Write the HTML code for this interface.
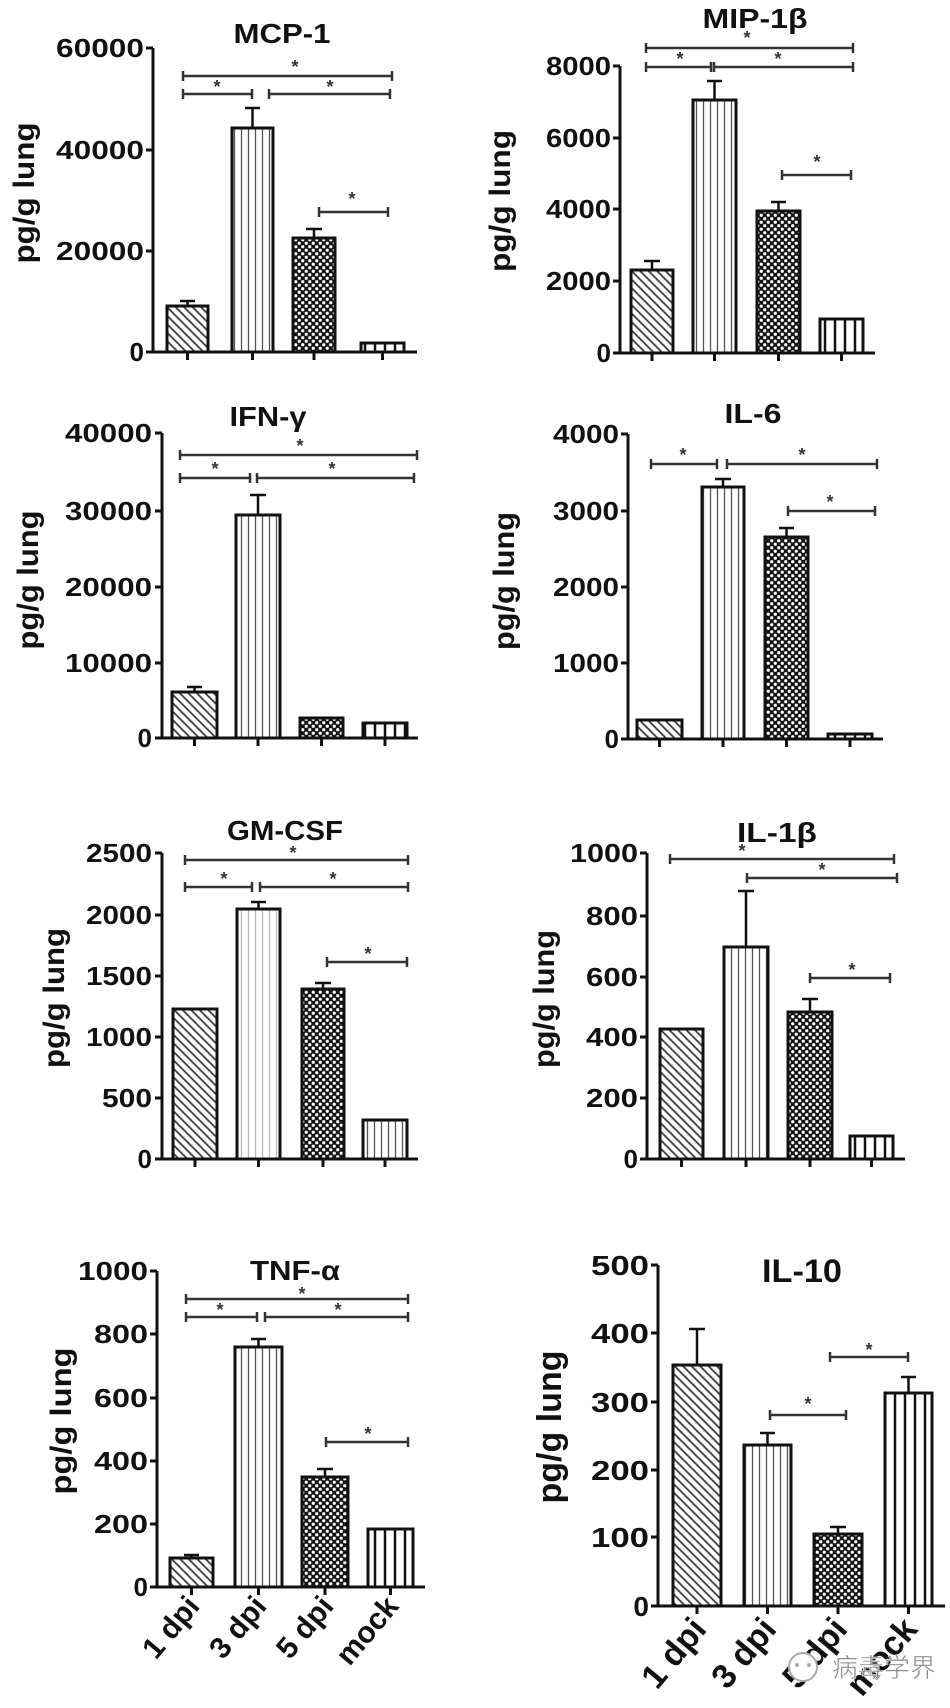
<!DOCTYPE html>
<html><head><meta charset="utf-8"><style>
html,body{margin:0;padding:0;background:#fff;}
svg{display:block;font-family:"Liberation Sans",Arial,sans-serif;font-weight:bold;}
.ax{stroke:#111;stroke-width:3;fill:none;}
.bar{stroke:#111;stroke-width:3;}
.br{stroke:#333;stroke-width:2.5;fill:none;}
.eb{stroke:#111;stroke-width:2.5;fill:none;}
.tk{font-size:26px;fill:#111;text-anchor:end;}
.tt{font-size:28px;fill:#111;text-anchor:middle;}
.yl{font-size:30px;fill:#111;text-anchor:middle;}
.st{font-size:18px;fill:#333;text-anchor:middle;}
.xl{font-size:30px;fill:#111;text-anchor:end;}
</style></head><body>
<svg width="950" height="1708" viewBox="0 0 950 1708" xmlns="http://www.w3.org/2000/svg">
<defs>
<pattern id="h" width="6" height="6" patternUnits="userSpaceOnUse" patternTransform="rotate(-45)"><rect width="6" height="6" fill="#fff"/><line x1="3" y1="0" x2="3" y2="6" stroke="#333" stroke-width="1.7"/></pattern>
<pattern id="v" width="7" height="7" patternUnits="userSpaceOnUse"><rect width="7" height="7" fill="#fff"/><line x1="3.5" y1="0" x2="3.5" y2="7" stroke="#555" stroke-width="1.3"/></pattern>
<pattern id="vl" width="7" height="7" patternUnits="userSpaceOnUse"><rect width="7" height="7" fill="#fff"/><line x1="3.5" y1="0" x2="3.5" y2="7" stroke="#bbb" stroke-width="1.3"/></pattern>
<pattern id="d" width="7" height="7" patternUnits="userSpaceOnUse"><rect width="7" height="7" fill="#151515"/><circle cx="1.75" cy="1.75" r="1.6" fill="#fff"/><circle cx="5.25" cy="5.25" r="1.6" fill="#fff"/></pattern>
<pattern id="m" width="10" height="10" patternUnits="userSpaceOnUse"><rect width="10" height="10" fill="#fff"/><line x1="5" y1="0" x2="5" y2="10" stroke="#111" stroke-width="2.5"/></pattern>
</defs>

<!-- ===== MCP-1 ===== -->
<text class="tt" x="282" y="43" textLength="97" lengthAdjust="spacingAndGlyphs">MCP-1</text>
<text class="yl" transform="translate(34,193) rotate(-90)" textLength="141" lengthAdjust="spacingAndGlyphs">pg/g lung</text>
<path class="ax" d="M153 48 V352 H417 M146 48 H153 M146 150 H153 M146 251 H153 M146 352 H153 M187.5 352 v8 M252.5 352 v8 M314 352 v8 M382.5 352 v8"/>
<text class="tk" x="144" y="57" textLength="88" lengthAdjust="spacingAndGlyphs">60000</text>
<text class="tk" x="144" y="159" textLength="88" lengthAdjust="spacingAndGlyphs">40000</text>
<text class="tk" x="144" y="260" textLength="88" lengthAdjust="spacingAndGlyphs">20000</text>
<text class="tk" x="144" y="361">0</text>
<path class="eb" d="M187.5 306 V301 M180 301 H195 M252.5 128 V108 M245 108 H260 M314 238 V229 M306 229 H322"/>
<rect class="bar" x="167" y="306" width="41" height="46" fill="url(#h)"/>
<rect class="bar" x="232" y="128" width="41" height="224" fill="url(#v)"/>
<rect class="bar" x="293" y="238" width="42" height="114" fill="url(#d)"/>
<rect class="bar" x="361" y="343" width="43" height="9" fill="url(#m)"/>
<path class="br" d="M183 76 H392 M183 71 v10 M392 71 v10 M183 94 H252 M183 89 v10 M252 89 v10 M269 94 H390 M269 89 v10 M390 89 v10 M319 212 H388 M319 207 v10 M388 207 v10"/>
<text class="st" x="295" y="73">*</text><text class="st" x="217" y="93">*</text><text class="st" x="330" y="93">*</text><text class="st" x="352" y="205">*</text>

<!-- ===== MIP-1b ===== -->
<text class="tt" x="755" y="28" textLength="105" lengthAdjust="spacingAndGlyphs">MIP-1β</text>
<text class="yl" transform="translate(510,201) rotate(-90)" textLength="142" lengthAdjust="spacingAndGlyphs">pg/g lung</text>
<path class="ax" d="M620 66 V353 H875 M613 66 H620 M613 138 H620 M613 209 H620 M613 281 H620 M613 353 H620 M652 353 v8 M714.5 353 v8 M778.5 353 v8 M841.5 353 v8"/>
<text class="tk" x="611" y="75" textLength="65" lengthAdjust="spacingAndGlyphs">8000</text>
<text class="tk" x="611" y="147" textLength="65" lengthAdjust="spacingAndGlyphs">6000</text>
<text class="tk" x="611" y="218" textLength="65" lengthAdjust="spacingAndGlyphs">4000</text>
<text class="tk" x="611" y="290" textLength="65" lengthAdjust="spacingAndGlyphs">2000</text>
<text class="tk" x="611" y="362">0</text>
<path class="eb" d="M652 270 V261 M644 261 H660 M714.5 100 V81 M707 81 H722 M778.5 211 V202 M771 202 H786"/>
<rect class="bar" x="631" y="270" width="42" height="83" fill="url(#h)"/>
<rect class="bar" x="693" y="100" width="43" height="253" fill="url(#v)"/>
<rect class="bar" x="757" y="211" width="43" height="142" fill="url(#d)"/>
<rect class="bar" x="820" y="319" width="43" height="34" fill="url(#m)"/>
<path class="br" d="M646 48 H853 M646 43 v10 M853 43 v10 M646 67 H711 M646 62 v10 M711 62 v10 M714 67 H853 M714 62 v10 M853 62 v10 M782 175 H851 M782 170 v10 M851 170 v10"/>
<text class="st" x="747" y="44">*</text><text class="st" x="680" y="65">*</text><text class="st" x="778" y="65">*</text><text class="st" x="817" y="168">*</text>

<!-- ===== IFN-g ===== -->
<text class="tt" x="268" y="426" textLength="77" lengthAdjust="spacingAndGlyphs">IFN-γ</text>
<text class="yl" transform="translate(38,580) rotate(-90)" textLength="139" lengthAdjust="spacingAndGlyphs">pg/g lung</text>
<path class="ax" d="M162 433 V738 H418 M155 433 H162 M155 511 H162 M155 587 H162 M155 663 H162 M155 738 H162 M194.5 738 v8 M258 738 v8 M321.5 738 v8 M385 738 v8"/>
<text class="tk" x="152" y="442" textLength="87" lengthAdjust="spacingAndGlyphs">40000</text>
<text class="tk" x="152" y="520" textLength="87" lengthAdjust="spacingAndGlyphs">30000</text>
<text class="tk" x="152" y="596" textLength="87" lengthAdjust="spacingAndGlyphs">20000</text>
<text class="tk" x="152" y="672" textLength="87" lengthAdjust="spacingAndGlyphs">10000</text>
<text class="tk" x="152" y="747">0</text>
<path class="eb" d="M194.5 692 V687 M187 687 H202 M258 515 V495 M250 495 H266"/>
<rect class="bar" x="172" y="692" width="45" height="46" fill="url(#h)"/>
<rect class="bar" x="236" y="515" width="44" height="223" fill="url(#v)"/>
<rect class="bar" x="300" y="718" width="43" height="20" fill="url(#d)"/>
<rect class="bar" x="363" y="723" width="44" height="15" fill="url(#m)"/>
<path class="br" d="M180 455 H417 M180 450 v10 M417 450 v10 M180 478 H250 M180 473 v10 M250 473 v10 M257 478 H414 M257 473 v10 M414 473 v10"/>
<text class="st" x="300" y="452">*</text><text class="st" x="215" y="475">*</text><text class="st" x="332" y="475">*</text>

<!-- ===== IL-6 ===== -->
<text class="tt" x="753" y="423" textLength="57" lengthAdjust="spacingAndGlyphs">IL-6</text>
<text class="yl" transform="translate(514,581) rotate(-90)" textLength="138" lengthAdjust="spacingAndGlyphs">pg/g lung</text>
<path class="ax" d="M628 434 V739 H883 M621 434 H628 M621 511 H628 M621 587 H628 M621 663 H628 M621 739 H628 M659.5 739 v8 M723 739 v8 M786.5 739 v8 M850 739 v8"/>
<text class="tk" x="619" y="443" textLength="66" lengthAdjust="spacingAndGlyphs">4000</text>
<text class="tk" x="619" y="520" textLength="66" lengthAdjust="spacingAndGlyphs">3000</text>
<text class="tk" x="619" y="596" textLength="66" lengthAdjust="spacingAndGlyphs">2000</text>
<text class="tk" x="619" y="672" textLength="66" lengthAdjust="spacingAndGlyphs">1000</text>
<text class="tk" x="619" y="748">0</text>
<path class="eb" d="M723 487 V479 M715 479 H731 M786.5 537 V528 M779 528 H794"/>
<rect class="bar" x="637" y="720" width="45" height="19" fill="url(#h)"/>
<rect class="bar" x="702" y="487" width="42" height="252" fill="url(#v)"/>
<rect class="bar" x="765" y="537" width="43" height="202" fill="url(#d)"/>
<rect class="bar" x="828" y="734" width="44" height="5" fill="url(#m)"/>
<path class="br" d="M651 464 H717 M651 459 v10 M717 459 v10 M727 464 H877 M727 459 v10 M877 459 v10 M788 511 H875 M788 506 v10 M875 506 v10"/>
<text class="st" x="683" y="461">*</text><text class="st" x="802" y="461">*</text><text class="st" x="830" y="508">*</text>

<!-- ===== GM-CSF ===== -->
<text class="tt" x="285" y="840" textLength="116" lengthAdjust="spacingAndGlyphs">GM-CSF</text>
<text class="yl" transform="translate(64,998) rotate(-90)" textLength="140" lengthAdjust="spacingAndGlyphs">pg/g lung</text>
<path class="ax" d="M162 853 V1159 H418 M155 853 H162 M155 915 H162 M155 976 H162 M155 1037 H162 M155 1098 H162 M155 1159 H162 M195 1159 v8 M258.5 1159 v8 M323 1159 v8 M385 1159 v8"/>
<text class="tk" x="152" y="862" textLength="66" lengthAdjust="spacingAndGlyphs">2500</text>
<text class="tk" x="152" y="924" textLength="66" lengthAdjust="spacingAndGlyphs">2000</text>
<text class="tk" x="152" y="985" textLength="66" lengthAdjust="spacingAndGlyphs">1500</text>
<text class="tk" x="152" y="1046" textLength="66" lengthAdjust="spacingAndGlyphs">1000</text>
<text class="tk" x="152" y="1107" textLength="50" lengthAdjust="spacingAndGlyphs">500</text>
<text class="tk" x="152" y="1168">0</text>
<path class="eb" d="M258.5 909 V902 M251 902 H266 M323 989 V983 M315 983 H331"/>
<rect class="bar" x="173" y="1009" width="44" height="150" fill="url(#h)"/>
<rect class="bar" x="237" y="909" width="43" height="250" fill="url(#vl)"/>
<rect class="bar" x="302" y="989" width="42" height="170" fill="url(#d)"/>
<rect class="bar" x="363" y="1120" width="44" height="39" fill="url(#v)"/>
<path class="br" d="M185 860 H408 M185 855 v10 M408 855 v10 M185 887 H252 M185 882 v10 M252 882 v10 M260 887 H408 M260 882 v10 M408 882 v10 M327 962 H407 M327 957 v10 M407 957 v10"/>
<text class="st" x="293" y="859">*</text><text class="st" x="224" y="885">*</text><text class="st" x="333" y="885">*</text><text class="st" x="368" y="960">*</text>

<!-- ===== IL-1b ===== -->
<text class="tt" x="777" y="842" textLength="80" lengthAdjust="spacingAndGlyphs">IL-1β</text>
<text class="yl" transform="translate(554,999) rotate(-90)" textLength="138" lengthAdjust="spacingAndGlyphs">pg/g lung</text>
<path class="ax" d="M647 853 V1159 H905 M640 853 H647 M640 916 H647 M640 977 H647 M640 1037 H647 M640 1098 H647 M640 1159 H647 M681.5 1159 v8 M746 1159 v8 M810 1159 v8 M871.5 1159 v8"/>
<text class="tk" x="638" y="862" textLength="68" lengthAdjust="spacingAndGlyphs">1000</text>
<text class="tk" x="638" y="925" textLength="52" lengthAdjust="spacingAndGlyphs">800</text>
<text class="tk" x="638" y="986" textLength="52" lengthAdjust="spacingAndGlyphs">600</text>
<text class="tk" x="638" y="1046" textLength="52" lengthAdjust="spacingAndGlyphs">400</text>
<text class="tk" x="638" y="1107" textLength="52" lengthAdjust="spacingAndGlyphs">200</text>
<text class="tk" x="638" y="1168">0</text>
<path class="eb" d="M746 947 V891 M738 891 H754 M810 1012 V999 M802 999 H818"/>
<rect class="bar" x="660" y="1029" width="43" height="130" fill="url(#h)"/>
<rect class="bar" x="724" y="947" width="44" height="212" fill="url(#v)"/>
<rect class="bar" x="788" y="1012" width="44" height="147" fill="url(#d)"/>
<rect class="bar" x="850" y="1136" width="43" height="23" fill="url(#m)"/>
<path class="br" d="M670 859 H894 M670 854 v10 M894 854 v10 M747 878 H897 M747 873 v10 M897 873 v10 M810 978 H890 M810 973 v10 M890 973 v10"/>
<text class="st" x="742" y="857">*</text><text class="st" x="822" y="876">*</text><text class="st" x="852" y="976">*</text>

<!-- ===== TNF-a ===== -->
<text class="tt" x="295" y="1280" textLength="90" lengthAdjust="spacingAndGlyphs">TNF-α</text>
<text class="yl" transform="translate(71,1421) rotate(-90)" textLength="147" lengthAdjust="spacingAndGlyphs">pg/g lung</text>
<path class="ax" d="M157 1271 V1587 H425 M150 1271 H157 M150 1334 H157 M150 1398 H157 M150 1461 H157 M150 1524 H157 M150 1587 H157 M191.5 1587 v8 M258.5 1587 v8 M325 1587 v8 M390.5 1587 v8"/>
<text class="tk" x="148" y="1280" textLength="70" lengthAdjust="spacingAndGlyphs">1000</text>
<text class="tk" x="148" y="1343" textLength="54" lengthAdjust="spacingAndGlyphs">800</text>
<text class="tk" x="148" y="1407" textLength="54" lengthAdjust="spacingAndGlyphs">600</text>
<text class="tk" x="148" y="1470" textLength="54" lengthAdjust="spacingAndGlyphs">400</text>
<text class="tk" x="148" y="1533" textLength="54" lengthAdjust="spacingAndGlyphs">200</text>
<text class="tk" x="148" y="1596">0</text>
<path class="eb" d="M191.5 1558 V1555 M184 1555 H199 M258.5 1347 V1339 M251 1339 H266 M325 1477 V1469 M317 1469 H333"/>
<rect class="bar" x="170" y="1558" width="43" height="29" fill="url(#h)"/>
<rect class="bar" x="235" y="1347" width="47" height="240" fill="url(#v)"/>
<rect class="bar" x="302" y="1477" width="46" height="110" fill="url(#d)"/>
<rect class="bar" x="368" y="1529" width="45" height="58" fill="url(#m)"/>
<path class="br" d="M186 1299 H408 M186 1294 v10 M408 1294 v10 M186 1317 H257 M186 1312 v10 M257 1312 v10 M265 1317 H408 M265 1312 v10 M408 1312 v10 M326 1442 H408 M326 1437 v10 M408 1437 v10"/>
<text class="st" x="302" y="1300">*</text><text class="st" x="220" y="1316">*</text><text class="st" x="338" y="1316">*</text><text class="st" x="368" y="1440">*</text>
<text class="xl" transform="translate(201,1607) rotate(-50)">1 dpi</text>
<text class="xl" transform="translate(268,1607) rotate(-50)">3 dpi</text>
<text class="xl" transform="translate(335,1607) rotate(-50)">5 dpi</text>
<text class="xl" transform="translate(400,1607) rotate(-50)">mock</text>

<!-- ===== IL-10 ===== -->
<text class="tt" x="802" y="1282" style="font-size:32px" textLength="80" lengthAdjust="spacingAndGlyphs">IL-10</text>
<text class="yl" style="font-size:34px" transform="translate(561,1427) rotate(-90)" textLength="153" lengthAdjust="spacingAndGlyphs">pg/g lung</text>
<path class="ax" d="M658 1265 V1606 H945 M651 1265 H658 M651 1333 H658 M651 1402 H658 M651 1470 H658 M651 1537 H658 M651 1606 H658 M697 1606 v8 M767.5 1606 v8 M838 1606 v8 M908.5 1606 v8"/>
<text class="tk" x="649" y="1275" style="font-size:28px" textLength="58" lengthAdjust="spacingAndGlyphs">500</text>
<text class="tk" x="649" y="1343" style="font-size:28px" textLength="58" lengthAdjust="spacingAndGlyphs">400</text>
<text class="tk" x="649" y="1412" style="font-size:28px" textLength="58" lengthAdjust="spacingAndGlyphs">300</text>
<text class="tk" x="649" y="1480" style="font-size:28px" textLength="58" lengthAdjust="spacingAndGlyphs">200</text>
<text class="tk" x="649" y="1547" style="font-size:28px" textLength="58" lengthAdjust="spacingAndGlyphs">100</text>
<text class="tk" x="649" y="1616" style="font-size:28px">0</text>
<path class="eb" d="M697 1365 V1329 M689 1329 H705 M767.5 1445 V1433 M760 1433 H775 M838 1534 V1527 M830 1527 H846 M908.5 1393 V1377 M901 1377 H916"/>
<rect class="bar" x="673" y="1365" width="48" height="241" fill="url(#h)"/>
<rect class="bar" x="744" y="1445" width="47" height="161" fill="url(#v)"/>
<rect class="bar" x="814" y="1534" width="48" height="72" fill="url(#d)"/>
<rect class="bar" x="885" y="1393" width="47" height="213" fill="url(#m)"/>
<path class="br" d="M770 1415 H846 M770 1410 v10 M846 1410 v10 M830 1357 H908 M830 1352 v10 M908 1352 v10"/>
<text class="st" x="808" y="1410">*</text><text class="st" x="869" y="1356">*</text>
<text class="xl" style="font-size:34px" transform="translate(708,1630) rotate(-50)">1 dpi</text>
<text class="xl" style="font-size:34px" transform="translate(778,1630) rotate(-50)">3 dpi</text>
<text class="xl" style="font-size:34px" transform="translate(849,1630) rotate(-50)">5 dpi</text>
<text class="xl" style="font-size:34px" transform="translate(919,1630) rotate(-50)">mock</text>

<!-- watermark -->
<circle cx="803" cy="1667" r="14" fill="#fff" stroke="#aaa" stroke-width="2"/>
<circle cx="797" cy="1665" r="2" fill="#aaa"/><circle cx="809" cy="1665" r="2" fill="#aaa"/>
<text x="832" y="1677" style="font-size:26px;font-weight:normal;font-family:'Liberation Sans','Noto Sans CJK SC',sans-serif" fill="#888" stroke="#fff" stroke-width="0.6">病毒学界</text>
</svg>
</body></html>
